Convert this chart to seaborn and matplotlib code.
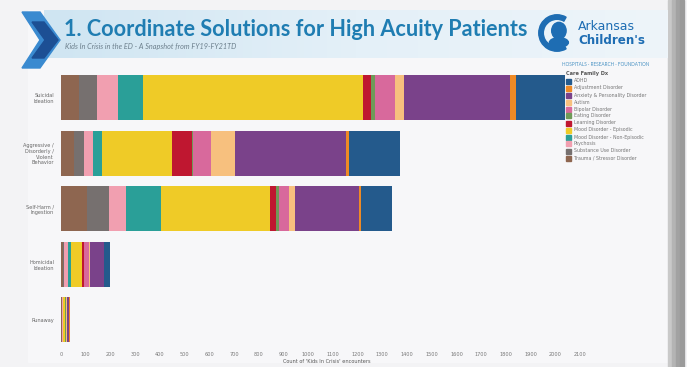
import numpy as np
import pandas as pd
import matplotlib
matplotlib.use("Agg")
import matplotlib.pyplot as plt
from matplotlib.patches import Rectangle, Polygon, Wedge, Ellipse
import seaborn as sns

W, H = 687, 367

# ---- data -------------------------------------------------------------
groups = ["Suicidal\nIdeation",
          "Aggressive /\nDisorderly /\nViolent\nBehavior",
          "Self-Harm /\nIngestion",
          "Homicidal\nIdeation",
          "Runaway"]

# legend order (top to bottom)
families = ["ADHD", "Adjustment Disorder", "Anxiety & Personality Disorder",
            "Autism", "Bipolar Disorder", "Eating Disorder", "Learning Disorder",
            "Mood Disorder - Episodic", "Mood Disorder - Non-Episodic",
            "Psychosis", "Substance Use Disorder", "Trauma / Stressor Disorder"]

family_colors = ["#245a8c", "#ee8a26", "#7a428a", "#f7c07e", "#d8699c",
                 "#6f9a58", "#bf1730", "#efcb27", "#2a9f98", "#f19fb0",
                 "#76706f", "#8e6650"]

# encounter counts per family, one list per group (same order as families)
suicidal   = [198, 24, 429, 36, 81, 16, 32, 890, 101, 85, 73, 73]
aggressive = [206, 12, 449, 97, 73, 4, 81, 283, 36, 36, 40, 53]
self_harm  = [126, 8, 259, 24, 40, 12, 24, 441, 142, 69, 89, 105]
homicidal  = [22, 2, 56, 4, 18, 3, 8, 44, 12, 14, 6, 8]
runaway    = [3, 1, 10, 2, 3, 1, 2, 6, 2, 3, 2, 3]

xticks = list(range(0, 2101, 100))

# ---- table ------------------------------------------------------------
counts = pd.DataFrame([suicidal, aggressive, self_harm, homicidal, runaway],
                      index=groups, columns=families)
# stacks are built from the bottom of the legend upwards (Trauma first)
stack_order = families[::-1]
cum = counts[stack_order].cumsum(axis=1)

# ---- figure -----------------------------------------------------------
fig = plt.figure(figsize=(W / 100, H / 100), dpi=100)
fig.patch.set_facecolor("#f3f3f5")

def fx(px):
    return px / W

def fy(py):
    return 1 - py / H

# slide frame
fig.add_artist(Rectangle((fx(28), fy(362)), fx(642), 352 / H,
                         transform=fig.transFigure, color="#f7f7f9", zorder=0))
for i, c in enumerate(["#c9c9c9", "#b4b4b4", "#a2a2a2", "#9a9a9a"]):
    fig.add_artist(Rectangle((fx(668 + i * 4), 0), fx(4), 1,
                             transform=fig.transFigure, color=c, zorder=0))

# header band with soft blue gradient
grad = np.linspace(0, 1, 256).reshape(1, -1)
band = fig.add_axes([fx(44), fy(58), fx(624), 48 / H], zorder=1)
band.imshow(grad, aspect="auto", extent=[0, 1, 0, 1],
            cmap=matplotlib.colors.LinearSegmentedColormap.from_list(
                "hdr", ["#cfe5f2", "#e4f0f8", "#eef5fa"]))
band.set_axis_off()

# chevron marker
fig.add_artist(Polygon([(fx(22), fy(12)), (fx(40), fy(12)), (fx(60), fy(40)),
                        (fx(40), fy(68)), (fx(22), fy(68)), (fx(40), fy(40))],
                       closed=True, transform=fig.transFigure,
                       color="#3a8ad0", zorder=2))
fig.add_artist(Polygon([(fx(32), fy(22)), (fx(44), fy(22)), (fx(58), fy(40)),
                        (fx(44), fy(58)), (fx(32), fy(58)), (fx(45), fy(40))],
                       closed=True, transform=fig.transFigure,
                       color="#1c4f94", zorder=3))

fig.text(fx(64), fy(30), "1. Coordinate Solutions for High Acuity Patients",
         fontsize=15.6, fontweight="bold", family="Lato", color="#1f7db2",
         va="center", ha="left", zorder=4)
fig.text(fx(65), fy(47), "Kids In Crisis in the ED - A Snapshot from FY19-FY21TD",
         fontsize=5.2, style="italic", family="Lato", color="#6c7f8c",
         va="center", ha="left", zorder=4)

# logo
logo = fig.add_axes([fx(538), fy(52), fx(38), 38 / H], zorder=4)
logo.set_xlim(0, 1); logo.set_ylim(0, 1); logo.set_aspect("equal")
logo.add_patch(Wedge((0.5, 0.5), 0.48, 60, 300, width=0.12, color="#1e6db3"))
logo.add_patch(Ellipse((0.55, 0.56), 0.38, 0.44, color="#1e6db3"))
logo.add_patch(Ellipse((0.55, 0.25), 0.5, 0.25, color="#1e6db3"))
logo.set_axis_off()
fig.text(fx(578), fy(27), "Arkansas", fontsize=9, family="DejaVu Sans",
         color="#1e6db3", va="center", ha="left", zorder=4)
fig.text(fx(578), fy(40), "Children's", fontsize=8.6, fontweight="bold",
         family="DejaVu Sans", color="#1e6db3", va="center", ha="left", zorder=4)
fig.text(fx(562), fy(64), "HOSPITALS \u00b7 RESEARCH \u00b7 FOUNDATION",
         fontsize=3.4, family="Lato", color="#4b93c4", va="center", ha="left",
         zorder=4)

# ---- stacked bars -------------------------------------------------------
ax = fig.add_axes([fx(61), fy(347.5), 2150 * 0.2472 / W, 277.5 / H], zorder=3)
ax.set_facecolor("none")

for fam in stack_order[::-1]:
    col = family_colors[families.index(fam)]
    layer = pd.DataFrame({"group": groups, "value": cum[fam].values})
    sns.barplot(data=layer, x="value", y="group", orient="h", color=col,
                order=groups, width=0.81, saturation=1, linewidth=0, ax=ax)

ax.set_xlim(0, 2150)
ax.set_ylim(4.5, -0.5)
ax.set_xticks(xticks)
ax.set_xticklabels([str(t) for t in xticks], fontsize=3.6, color="#777777")
ax.tick_params(axis="x", length=0, pad=3)
ax.tick_params(axis="y", length=0, pad=5)
for lbl in ax.get_yticklabels():
    lbl.set_fontsize(3.6)
    lbl.set_color("#666666")
    lbl.set_multialignment("right")
ax.set_ylabel("")
ax.set_xlabel("Count of 'Kids In Crisis' encounters", fontsize=3.6,
              color="#555555", labelpad=2)
for s in ax.spines.values():
    s.set_visible(False)

# ---- legend ------------------------------------------------------------
fig.text(fx(566), fy(74), "Care Family Dx", fontsize=3.6, fontweight="bold",
         color="#555555", va="center", ha="left", family="DejaVu Sans")
for i, (fam, col) in enumerate(zip(families, family_colors)):
    y = 81 + i * 7
    fig.add_artist(Rectangle((fx(566), fy(y + 2.5)), fx(5), 5 / H,
                             transform=fig.transFigure, color=col))
    fig.text(fx(574), fy(y), fam, fontsize=3.4, color="#777777",
             va="center", ha="left")

fig.savefig("out.png", dpi=100, facecolor=fig.get_facecolor())
